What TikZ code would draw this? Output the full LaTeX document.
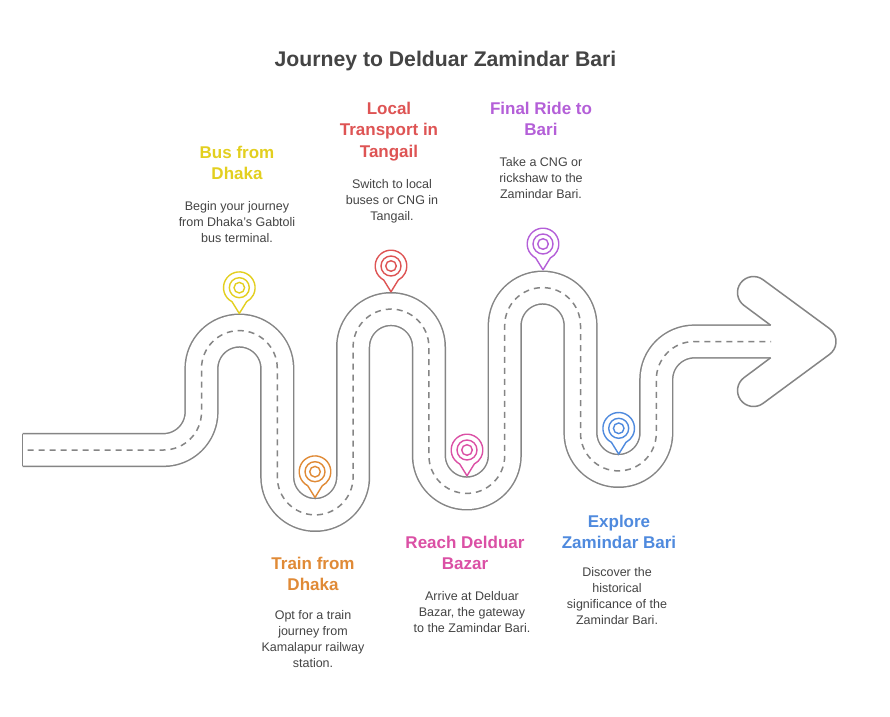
\documentclass[tikz,border=0pt]{standalone}
\usepackage{fontspec}
\setmainfont{Liberation Sans}
\usetikzlibrary{positioning}

\definecolor{road}{HTML}{858585}
\definecolor{ink}{HTML}{444444}
\definecolor{pinyellow}{HTML}{E3CF1F}
\definecolor{pinorange}{HTML}{E08A36}
\definecolor{pinred}{HTML}{DE5454}
\definecolor{pinpink}{HTML}{DB50A5}
\definecolor{pinpurple}{HTML}{B45FD8}
\definecolor{pinblue}{HTML}{4F8ADE}

\tikzset{
    heading/.style={font=\bfseries\fontsize{17}{21.6}\selectfont, align=center, anchor=north},
    blurb/.style={font=\fontsize{12.5}{16}\selectfont, text=ink, align=center, anchor=north, inner sep=0pt},
    roadline/.style={road, line width=1.5pt, line join=round},
}

\begin{document}
\begin{tikzpicture}[x=1pt, y=1pt, inner sep=0pt, outer sep=0pt]
    \useasboundingbox (0, 0) rectangle (890, 716);
    \fill[white] (0, 0) rectangle (890, 716);

    % centre line of the road
    \def\roadpath{(22.5, 266) -- (163.5, 266)
        arc (-90:0:38) -- (201.5, 347.5)
        arc (180:0:37.9) -- (277.3, 239)
        arc (180:360:37.9) -- (353.1, 369)
        arc (180:0:37.9) -- (428.9, 260.5)
        arc (180:360:37.9) -- (504.7, 390.5)
        arc (180:0:37.9) -- (580.5, 283)
        arc (180:360:37.9) -- (656.3, 336.5)
        arc (180:90:38) -- (771, 374.5)}

    \draw[roadline, double=white, double distance=31.2pt] \roadpath;
    \draw[roadline] (22.5, 249.7) -- (22.5, 282.3);

    % arrow head
    \draw[roadline, fill=white] (770.7, 390.7) -- (743.8, 410.7)
        arc (232.8:53.7:16) -- (829.5, 387.4)
        arc (53.7:-53.7:16) -- (763, 312.6)
        arc (-53.7:-232.8:16) -- (770.7, 358.3);

    \draw[road, line width=1.5pt, dash pattern=on 6pt off 5pt, dash phase=6pt] \roadpath;

    % pins on the road
    \foreach \name/\col/\x/\y in {
        bus/pinyellow/239.3/428.3,
        train/pinorange/315/244.3,
        local/pinred/391/450,
        reach/pinpink/467/266,
        final/pinpurple/543/472,
        explore/pinblue/618.7/287.7
    } {
        \draw[\col, line width=1.4pt, line join=round, fill=white]
            (\x-7.3, \y-14) arc (242.5:-62.5:15.8) -- (\x, \y-25.8) -- cycle;
        \draw[\col, line width=1.4pt] (\x, \y) circle (10);
        \draw[\col, line width=1.4pt] (\x, \y) circle (5.3);
        \coordinate (pin-\name) at (\x, \y);
    }

    \node[font=\bfseries\fontsize{21.2}{26}\selectfont, text=ink] (title) at (445.5, 655) {Journey to Delduar Zamindar Bari};

    \node[heading, text=pinyellow] (bus-head) at (237, 570) {Bus from\\Dhaka};
    \node[blurb] (bus-text) at (237, 515) {Begin your journey\\from Dhaka's Gabtoli\\bus terminal.};

    \node[heading, text=pinorange] (train-head) at (313, 159) {Train from\\Dhaka};
    \node[blurb] (train-text) at (313, 106) {Opt for a train\\journey from\\Kamalapur railway\\station.};

    \node[heading, text=pinred] (local-head) at (389, 614) {Local\\Transport in\\Tangail};
    \node[blurb] (local-text) at (392, 537) {Switch to local\\buses or CNG in\\Tangail.};

    \node[heading, text=pinpink] (reach-head) at (465, 180) {Reach Delduar\\Bazar};
    \node[blurb] (reach-text) at (472, 125) {Arrive at Delduar\\Bazar, the gateway\\to the Zamindar Bari.};

    \node[heading, text=pinpurple] (final-head) at (541, 614) {Final Ride to\\Bari};
    \node[blurb] (final-text) at (541, 559) {Take a CNG or\\rickshaw to the\\Zamindar Bari.};

    \node[heading, text=pinblue] (explore-head) at (619, 201) {Explore\\Zamindar Bari};
    \node[blurb] (explore-text) at (617, 149) {Discover the\\historical\\significance of the\\Zamindar Bari.};
\end{tikzpicture}
\end{document}
